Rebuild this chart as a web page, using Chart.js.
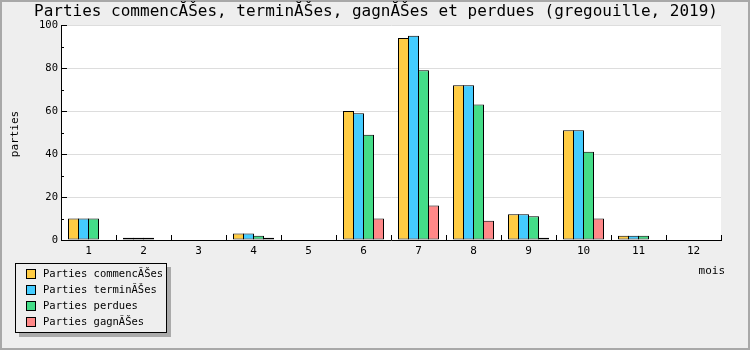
<!DOCTYPE html>
<html>
<head>
<meta charset="utf-8">
<script src="https://cdn.jsdelivr.net/npm/chart.js@4/dist/chart.umd.min.js"></script>
<style>
  html, body { margin: 0; padding: 0; background: #eeeeee; }
  canvas { display: block; }
</style>
</head>
<body>
<canvas id="partiesChart" width="750" height="350"></canvas>
<script>
const mois = ["1", "2", "3", "4", "5", "6", "7", "8", "9", "10", "11", "12"];
const commencees = [10, 1, 0, 3, 0, 60, 94, 72, 12, 51, 2, 0];
const terminees = [10, 1, 0, 3, 0, 59, 95, 72, 12, 51, 2, 0];
const perdues = [10, 1, 0, 2, 0, 49, 79, 63, 11, 41, 2, 0];
const gagnees = [0, 0, 0, 1, 0, 10, 16, 9, 1, 10, 0, 0];
const yTicks = [0, 20, 40, 60, 80, 100];

const titre = "Parties commencĂŠes, terminĂŠes, gagnĂŠes et perdues (gregouille, 2019)";
const mono = "'DejaVu Sans Mono', monospace";

// 12 mois de 55px, 4 barres de 10px qui se chevauchent d'un pixel
function serie(label, values, color) {
  return {
    label: label,
    data: values,
    backgroundColor: color,
    borderColor: "#000",
    borderWidth: 1,
    borderSkipped: false,
    inflateAmount: 0,
    categoryPercentage: 40 / 55,
    barPercentage: 1.1,
  };
}

const data = {
  labels: mois,
  datasets: [
    serie("Parties commencĂŠes", commencees, "#ffcc44"),
    serie("Parties terminĂŠes", terminees, "#44ccff"),
    serie("Parties perdues", perdues, "#44dd88"),
    serie("Parties gagnĂŠes", gagnees, "#ff8888"),
  ],
};

// fond, titre, ticks internes et legende
const decor = {
  id: "decor",
  beforeDraw(chart) {
    const ctx = chart.ctx;
    const a = chart.chartArea;
    ctx.save();
    ctx.fillStyle = "#eeeeee";
    ctx.fillRect(0, 0, chart.width, chart.height);
    ctx.strokeStyle = "#a8a8a8";
    ctx.lineWidth = 2;
    ctx.strokeRect(1, 1, chart.width - 2, chart.height - 2);
    ctx.fillStyle = "#ffffff";
    ctx.fillRect(a.left, a.top, a.right - a.left, a.bottom - a.top);
    ctx.restore();
  },
  afterDraw(chart) {
    const ctx = chart.ctx;
    const a = chart.chartArea;
    const y = chart.scales.y;
    ctx.save();

    // ticks vers l'interieur
    ctx.strokeStyle = "#000";
    ctx.lineWidth = 1;
    ctx.beginPath();
    for (let v = 0; v <= 100; v += 10) {
      const py = Math.round(y.getPixelForValue(v)) + 0.5;
      ctx.moveTo(a.left, py);
      ctx.lineTo(a.left + (v % 20 == 0 ? 6 : 3), py);
    }
    const w = (a.right - a.left) / mois.length;
    for (let i = 1; i <= mois.length; i++) {
      const px = Math.round(a.left + i * w) + 0.5;
      ctx.moveTo(px, a.bottom);
      ctx.lineTo(px, a.bottom - 5);
    }
    ctx.stroke();

    // titre
    ctx.fillStyle = "#000";
    ctx.font = "16px " + mono;
    ctx.textAlign = "center";
    ctx.textBaseline = "middle";
    ctx.fillText(titre, 376, 12);

    // titres des axes
    ctx.font = "11px " + mono;
    ctx.textAlign = "right";
    ctx.fillText("mois", 725, 271);
    ctx.save();
    ctx.translate(15, 134);
    ctx.rotate(-Math.PI / 2);
    ctx.textAlign = "center";
    ctx.fillText("parties", 0, 0);
    ctx.restore();

    // legende
    const bx = 15, by = 263, bw = 151, bh = 69;
    ctx.fillStyle = "#aaaaaa";
    ctx.fillRect(bx + 4, by + 4, bw + 1, bh + 1);
    ctx.fillStyle = "#eeeeee";
    ctx.fillRect(bx, by, bw, bh);
    ctx.strokeStyle = "#000";
    ctx.strokeRect(bx + 0.5, by + 0.5, bw, bh);
    ctx.font = "10.5px " + mono;
    ctx.textAlign = "left";
    chart.data.datasets.forEach((ds, i) => {
      const ry = 274 + i * 16;
      ctx.fillStyle = ds.backgroundColor;
      ctx.fillRect(26, ry - 5, 9, 10);
      ctx.strokeRect(26.5, ry - 4.5, 9, 9);
      ctx.fillStyle = "#000";
      ctx.fillText(ds.label, 43, ry);
    });
    ctx.restore();
  },
};

const config = {
  type: "bar",
  data: data,
  options: {
    responsive: false,
    animation: false,
    layout: { padding: { left: 0, top: 25, right: 29, bottom: 0 } },
    plugins: {
      legend: { display: false },
      title: { display: false },
      tooltip: { enabled: false },
    },
    scales: {
      x: {
        afterFit: (s) => { s.height = 110; },
        grid: { display: false, drawTicks: false },
        border: { display: true, color: "#000", width: 1 },
        ticks: { color: "#000", padding: 5, font: { family: mono, size: 11 } },
      },
      y: {
        min: 0,
        max: 100,
        afterFit: (s) => { s.width = 61; },
        afterBuildTicks: (s) => { s.ticks = yTicks.map((v) => ({ value: v })); },
        grid: { color: "#dddddd", drawTicks: false },
        border: { display: true, color: "#000", width: 1 },
        ticks: { color: "#000", padding: 3, font: { family: mono, size: 10.5 } },
      },
    },
  },
  plugins: [decor],
};

const partiesChart = new Chart(document.getElementById("partiesChart"), config);
</script>
</body>
</html>
